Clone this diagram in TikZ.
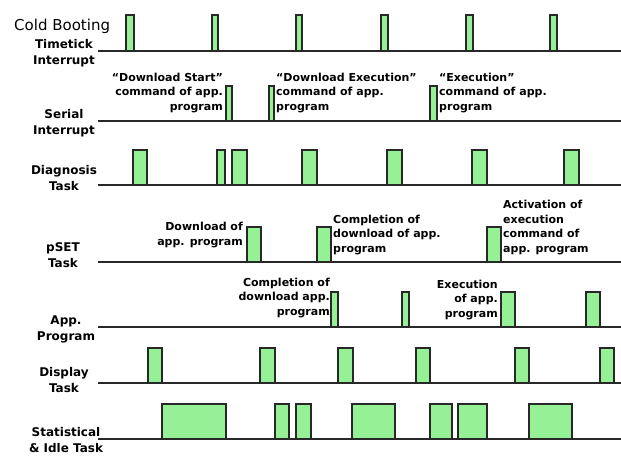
\documentclass[tikz,border=0pt]{standalone}
\usepackage{fontspec}
\setmainfont{DejaVu Sans}
\definecolor{pulsegreen}{RGB}{150,240,150}
\definecolor{linegray}{RGB}{40,40,40}
\begin{document}
\begin{tikzpicture}[x=1pt,y=-1pt,
  axis/.style={draw=linegray,line width=1.8pt},
  pulse/.style={draw=linegray,fill=pulsegreen,line width=1.1pt},
  rowlabel/.style={font=\bfseries\fontsize{12}{16}\selectfont,align=center,inner sep=0pt,anchor=base},
  note/.style={font=\bfseries\fontsize{11}{14.5}\selectfont,inner sep=0pt}]
\useasboundingbox (0,0) rectangle (621,456);

% time axes of the seven rows
\foreach \n/\y in {1/51,2/121,3/185,4/262,5/327,6/383,7/439}{
  \coordinate (ax\n w) at (98,\y);
  \coordinate (ax\n e) at (621,\y);
  \draw[axis] (ax\n w) -- (ax\n e);
}

% activity pulses: row top, row base, list of start/end times
\newcommand\pulserow[3]{%
  \foreach \a/\b in {#3}{\draw[pulse] (\a,#1) rectangle (\b,#2);}}
\pulserow{15}{51}{126/134,212/218,296/302,381/388,466/473,550/557}
\pulserow{86}{121}{226/232,269/274,430/437}
\pulserow{150}{185}{133/147,217/225,232/247,302/317,387/402,472/487,564/579}
\pulserow{227}{262}{247/261,317/331,487/501}
\pulserow{292}{327}{331/338,402/409,501/515,586/600}
\pulserow{348}{383}{148/162,260/275,338/353,416/430,515/529,600/614}
\pulserow{404}{439}{162/226,275/289,296/311,352/395,430/452,458/487,529/572}

% row names (anchored at the baseline of their last line)
\node[anchor=base west,inner sep=0pt,font=\fontsize{15}{18}\selectfont] (cold) at (14,30) {Cold Booting};
\node[rowlabel] (tick)  at (64,64)  {Timetick\\Interrupt};
\node[rowlabel] (ser)   at (64,134) {Serial\\Interrupt};
\node[rowlabel] (diag)  at (64,190) {Diagnosis\\Task};
\node[rowlabel] (pset)  at (63,267) {pSET\\Task};
\node[rowlabel] (app)   at (66,340) {App.\\Program};
\node[rowlabel] (disp)  at (64,392) {Display\\Task};
\node[rowlabel] (stat)  at (66,452) {Statistical\\\& Idle Task};

% event annotations
\node[note,align=right,anchor=base east] (n1) at (223,110) {“Download Start”\\command of app.\\program};
\node[note,align=left,anchor=base west]  (n2) at (276,110) {“Download Execution”\\command of app.\\program};
\node[note,align=left,anchor=base west]  (n3) at (439,110) {“Execution”\\command of app.\\program};
\node[note,align=right,anchor=base east] (n4) at (243,245) {Download of\\app. program};
\node[note,align=left,anchor=base west]  (n5) at (333,252) {Completion of\\download of app.\\program};
\node[note,align=left,anchor=base west]  (n6) at (503,252) {Activation of\\execution\\command of\\app. program};
\node[note,align=right,anchor=base east] (n7) at (330,315) {Completion of\\download app.\\program};
\node[note,align=right,anchor=base east] (n8) at (498,317) {Execution\\of app.\\program};
\end{tikzpicture}
\end{document}
